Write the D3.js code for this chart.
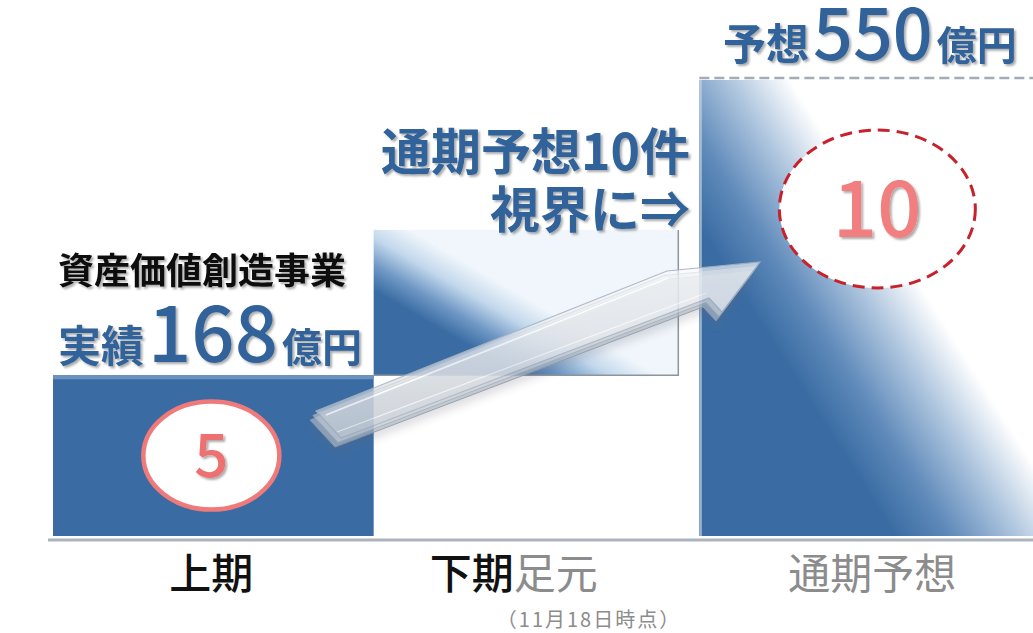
<!DOCTYPE html>
<html>
<head>
<meta charset="utf-8">
<script src="https://cdn.jsdelivr.net/npm/d3@7"></script>
<style>
  body { margin: 0; background: #fff; }
  svg { display: block; font-family: "Noto Sans CJK JP", "Noto Sans", sans-serif; }
</style>
</head>
<body>
<div class="js-vis"></div>
<script>
"use strict";

// periods and cumulative amounts (億円)
var categories = ["上期", "下期足元", "通期予想"],
    lows = [null, 168, null],
    highs = [168, 356, 550],
    counts = [5, null, 10];

var width = 1033,
    height = 633,
    blue = "#3a6ca3",
    textBlue = "#30629a";

var svg = d3.select(".js-vis").append("svg").attr("width", width).attr("height", height);
var defs = svg.append("defs");

var ts = defs.append("filter").attr("id", "ts").attr("x", "-10%").attr("y", "-20%").attr("width", "130%").attr("height", "150%");
ts.append("feDropShadow").attr("dx", 2).attr("dy", 2).attr("stdDeviation", 1.3).attr("flood-color", "#000").attr("flood-opacity", 0.33);

var as = defs.append("filter").attr("id", "as").attr("x", "-20%").attr("y", "-50%").attr("width", "140%").attr("height", "200%");
as.append("feDropShadow").attr("dx", 0).attr("dy", 6).attr("stdDeviation", 4).attr("flood-color", "#667").attr("flood-opacity", 0.3);

// diagonal fades
function fade(id, u, s0, s1, stops) {
  var g = defs.append("linearGradient").attr("id", id).attr("gradientUnits", "userSpaceOnUse")
    .attr("x1", u[0] * s0).attr("y1", u[1] * s0).attr("x2", u[0] * s1).attr("y2", u[1] * s1);
  stops.forEach(function (s) {
    g.append("stop").attr("offset", s[0]).attr("stop-color", s[1]);
  });
}
fade("g2", [0.504, -0.863], -62, 8, [[0, blue], [0.3, "#6d96c4"], [0.65, "#c3d8ec"], [1, "#f0f6fb"]]);
fade("g3", [0.845, -0.535], 470, 625, [[0, blue], [0.3, "#5f8aba"], [0.65, "#abc3dd"], [1, "#ffffff"]]);

var ag = defs.append("linearGradient").attr("id", "ag").attr("x1", 0).attr("y1", 0).attr("x2", 0.15).attr("y2", 1);
ag.append("stop").attr("offset", 0).attr("stop-color", "#ffffff");
ag.append("stop").attr("offset", 0.5).attr("stop-color", "#e9ecf0");
ag.append("stop").attr("offset", 1).attr("stop-color", "#c3c9d1");

var x = d3.scaleBand().domain(categories).range([53, 1015]).paddingInner(0),
    y = d3.scaleLinear().domain([-40, 550]).range([536, 80]),
    floor = y.domain()[0];

function barX(d, i) {
  return i === 2 ? x(d) + 5 : x(d);
}
function barW(d, i) {
  if (i === 1) return x.bandwidth() * 0.95;
  if (i === 2) return width - barX(d, i);
  return x.bandwidth();
}

var bars = svg.append("g");
bars.selectAll("rect").data(categories).enter().append("rect")
  .attr("x", barX)
  .attr("y", function (d, i) { return y(highs[i]); })
  .attr("width", barW)
  .attr("height", function (d, i) { return y(lows[i] == null ? floor : lows[i]) - y(highs[i]); })
  .attr("fill", function (d, i) { return i === 0 ? blue : i === 1 ? "url(#g2)" : "url(#g3)"; });

var x3 = barX(categories[2], 2);

// bar edges
bars.append("rect").attr("x", x(categories[0])).attr("y", y(highs[0])).attr("width", x.bandwidth()).attr("height", 4).attr("fill", "#6b92c0");
bars.append("line").attr("x1", x3 + 1.5).attr("x2", x3 + 1.5)
  .attr("y1", y(highs[2])).attr("y2", y(floor)).attr("stroke", "#c9d3de").attr("stroke-width", 2).attr("opacity", 0.7);
var b2r = x(categories[1]) + barW(categories[1], 1);
bars.append("polyline")
  .attr("points", [[b2r, y(highs[1])], [b2r, y(lows[1])], [x(categories[1]), y(lows[1])]].join(" "))
  .attr("fill", "none").attr("stroke", "#8e949c").attr("stroke-width", 1.5);

// target line
svg.append("line").attr("x1", x3).attr("x2", width)
  .attr("y1", y(highs[2]) - 2).attr("y2", y(highs[2]) - 2)
  .attr("stroke", "#a3abb6").attr("stroke-width", 2.5).attr("stroke-dasharray", "10 5");

// baseline
svg.append("line").attr("x1", 48).attr("x2", width).attr("y1", y(floor) + 4).attr("y2", y(floor) + 4)
  .attr("stroke", "#abb3bd").attr("stroke-width", 3);

// count markers
var c0x = x(categories[0]) + x.bandwidth() / 2 - 2,
    c0y = (y(highs[0]) + y(floor)) / 2;
svg.append("ellipse").attr("cx", c0x).attr("cy", c0y).attr("rx", 68).attr("ry", 54)
  .attr("fill", "#fff").attr("stroke", "#f07a7a").attr("stroke-width", 4.5);
svg.append("text").attr("x", c0x).attr("y", c0y + 21).attr("text-anchor", "middle")
  .attr("font-size", 60).attr("font-weight", 500).attr("fill", "#ef7070").attr("filter", "url(#ts)")
  .text(counts[0]);

var c2x = x3 + 178,
    c2y = y(highs[2]) + 129;
svg.append("ellipse").attr("cx", c2x).attr("cy", c2y).attr("rx", 98).attr("ry", 79)
  .attr("fill", "#fff").attr("stroke", "#c7212b").attr("stroke-width", 3).attr("stroke-dasharray", "12 7");
svg.append("text").attr("x", c2x).attr("y", c2y + 28).attr("text-anchor", "middle")
  .attr("font-size", 78).attr("font-weight", 500).attr("fill", "#f27f80").attr("filter", "url(#ts)")
  .text(counts[2]);

// amount notes
svg.append("text").attr("x", 58).attr("y", 284).attr("font-size", 36).attr("font-weight", 700)
  .attr("fill", "#111").attr("filter", "url(#ts)").text("資産価値創造事業");

function amount(xp, yp, pre, num, post, big) {
  var t = svg.append("text").attr("x", xp).attr("y", yp).attr("fill", textBlue)
    .attr("font-weight", 700).attr("filter", "url(#ts)");
  t.append("tspan").attr("font-size", 43).text(pre);
  t.append("tspan").attr("font-size", big).attr("font-weight", 500).attr("dx", 4).text(num);
  t.append("tspan").attr("font-size", 40).attr("dx", 4).text(post);
}
amount(58, 362, "実績", highs[0], "億円", 76);
amount(723, 60, "予想", highs[2], "億円", 70);

var note = svg.append("text").attr("text-anchor", "end").attr("font-size", 50).attr("font-weight", 700)
  .attr("fill", textBlue).attr("filter", "url(#ts)");
note.append("tspan").attr("x", 690).attr("y", 170).text("通期予想" + counts[2] + "件");
note.append("tspan").attr("x", 690).attr("y", 228).text("視界に⇒");

// growth arrow (flat glassy strip seen in perspective)
var arrowPts = [[316, 411], [667, 271], [760, 262], [722, 312], [709, 298], [341, 438]];
var arrow = svg.append("g").attr("opacity", 0.9);
arrow.append("polygon").attr("points", arrowPts.map(function (p) { return [p[0] - 6, p[1] + 9]; }).join(" "))
  .attr("fill", "#aeb7c2").attr("fill-opacity", 0.75).attr("stroke", "#8f99a6").attr("stroke-width", 1).attr("filter", "url(#as)");
arrow.append("polygon").attr("points", arrowPts.map(function (p) { return [p[0] - 3, p[1] + 4.5]; }).join(" "))
  .attr("fill", "#d3d8de").attr("fill-opacity", 0.6).attr("stroke", "#a3adb9").attr("stroke-width", 1);
arrow.append("polygon").attr("points", arrowPts.join(" "))
  .attr("fill", "url(#ag)").attr("fill-opacity", 0.72).attr("stroke", "#aab4c0").attr("stroke-width", 1.2);
arrow.append("line").attr("x1", 326).attr("y1", 415).attr("x2", 668).attr("y2", 278)
  .attr("stroke", "#fff").attr("stroke-width", 1.6).attr("opacity", 0.95);
arrow.append("line").attr("x1", 337).attr("y1", 432).attr("x2", 706).attr("y2", 293)
  .attr("stroke", "#fff").attr("stroke-width", 1.2).attr("opacity", 0.7);

// category labels
var lab = svg.append("g").attr("font-size", 42);
lab.append("text").attr("x", c0x).attr("y", 589).attr("text-anchor", "middle")
  .attr("font-weight", 500).attr("fill", "#111").text(categories[0]);
var l2 = lab.append("text").attr("x", x(categories[1]) + 56).attr("y", 589);
l2.append("tspan").attr("font-weight", 500).attr("fill", "#111").text(categories[1].slice(0, 2));
l2.append("tspan").attr("fill", "#8c8c8c").text(categories[1].slice(2));
lab.append("text").attr("x", (x3 + width) / 2 + 6).attr("y", 589).attr("text-anchor", "middle")
  .attr("fill", "#8c8c8c").text(categories[2]);

svg.append("text").attr("x", 589).attr("y", 627).attr("text-anchor", "middle")
  .attr("font-size", 20).attr("letter-spacing", 2).attr("fill", "#8c8c8c").text("（11月18日時点）");
</script>
</body>
</html>
